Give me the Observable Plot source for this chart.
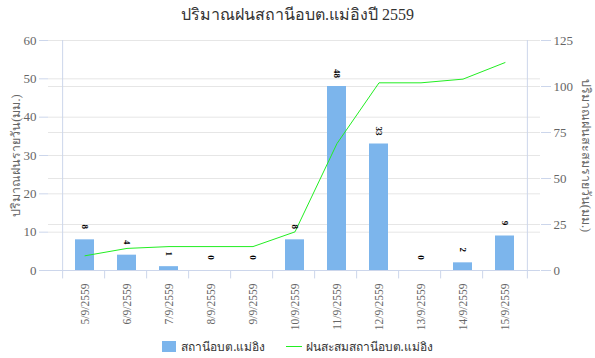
<!DOCTYPE html>
<html>
<head>
<meta charset="utf-8">
<script src="https://cdn.jsdelivr.net/npm/d3@7"></script>
<script src="https://cdn.jsdelivr.net/npm/@observablehq/plot@0.6"></script>
<style>
  body { margin: 0; background: #fff; font-family: "Liberation Serif", "Noto Sans", sans-serif; }
  #title { height: 30px; line-height: 26px; padding-top: 2px; box-sizing: border-box; text-align: center; font-size: 16px; color: #333; }
  #legend { height: 23px; display: flex; justify-content: center; align-items: center; font-size: 12px; color: #333; font-family: "Noto Sans", "Liberation Sans", sans-serif; }
  .sw { display: inline-block; width: 14px; height: 11px; background: #7cb5ec; margin-right: 5px; }
  .ln { display: inline-block; width: 16px; height: 1px; background: #22ee22; margin: 0 4px 0 20px; }
  svg text { font-family: "Liberation Serif", "Noto Sans", serif; }
</style>
</head>
<body>
<div id="title">ปริมาณฝนสถานีอบต.แม่อิงปี 2559</div>
<div id="chart"></div>
<div id="legend"><span class="sw"></span><span>สถานีอบต.แม่อิง</span><span class="ln"></span><span>ฝนสะสมสถานีอบต.แม่อิง</span></div>
<script>
const dates = ["5/9/2559","6/9/2559","7/9/2559","8/9/2559","9/9/2559","10/9/2559","11/9/2559","12/9/2559","13/9/2559","14/9/2559","15/9/2559"];
const daily = [8, 4, 1, 0, 0, 8, 48, 33, 0, 2, 9];
const cumulative = [8, 12, 13, 13, 13, 21, 69, 102, 102, 104, 113];
const leftTicks = [0, 10, 20, 30, 40, 50, 60];
const rightTicks = [0, 25, 50, 75, 100, 125];
const leftTitle = "ปริมาณฝนรายวัน(มม.)";
const rightTitle = "ปริมาณฝนสะสมรายวัน(มม.)";
const leftMax = 60, rightMax = 125;

const rows = dates.map((d, i) => ({date: d, rain: daily[i], cum: cumulative[i]}));
const toLeft = v => v * leftMax / rightMax;

const W = 595, ML = 48, MR = 55;
const band = (W - ML - MR) / dates.length;
const axisColor = "#ccd6eb";

const chart = Plot.plot({
  width: W,
  height: 305,
  marginTop: 10,
  marginBottom: 65,
  marginLeft: ML,
  marginRight: MR,
  style: {fontSize: "12px", color: "#666", background: "#fff"},
  x: {domain: dates, padding: 0.55, label: null, axis: null},
  y: {domain: [0, leftMax], label: null, axis: null},
  marks: [
    Plot.ruleY(leftTicks.filter(d => d > 0), {stroke: "#e6e6e6"}),
    Plot.ruleY(rightTicks.filter(d => d > 0 && d < rightMax).map(toLeft), {stroke: "#e6e6e6"}),
    Plot.barY(rows, {x: "date", y: "rain", fill: "#7cb5ec"}),
    Plot.ruleY([0], {stroke: axisColor}),
    Plot.ruleX([dates[0]], {dx: -band / 2, stroke: axisColor}),
    Plot.ruleX([dates[dates.length - 1]], {dx: band / 2, stroke: axisColor}),
    Plot.ruleX(dates, {x: d => d, dx: -band / 2, y1: 0, y2: -2.2, stroke: axisColor}),
    Plot.ruleX([dates[dates.length - 1]], {dx: band / 2, y1: 0, y2: -2.2, stroke: axisColor}),
    Plot.line(rows, {x: "date", y: d => toLeft(d.cum), stroke: "#22ee22", strokeWidth: 1}),
    Plot.text(rows, {x: "date", y: "rain", text: d => String(d.rain), rotate: 90, dy: -13, fontSize: 9, fontWeight: "bold", fill: "#000", fontFamily: "DejaVu Sans"}),
    Plot.axisX({tickRotate: -90, tickSize: 0, tickPadding: 13, fill: "#666", fontSize: 11.5, label: null}),
    Plot.axisY(leftTicks, {anchor: "left", tickSize: 9, tickPadding: 3, stroke: axisColor, fill: "#666", fontSize: 13, label: null}),
    Plot.axisY(rightTicks.map(toLeft), {anchor: "right", tickSize: 10, tickPadding: 3, stroke: axisColor, fill: "#666", fontSize: 13, tickFormat: d => String(Math.round(d * rightMax / leftMax)), label: null}),
    Plot.text([leftTitle], {text: d => d, frameAnchor: "left", textAnchor: "middle", dx: -33, rotate: -90, fill: "#666", fontSize: 12.5}),
    Plot.text([rightTitle], {text: d => d, frameAnchor: "right", textAnchor: "middle", dx: 45, rotate: 90, fill: "#666", fontSize: 12.5})
  ]
});
document.getElementById("chart").appendChild(chart);
</script>
</body>
</html>
